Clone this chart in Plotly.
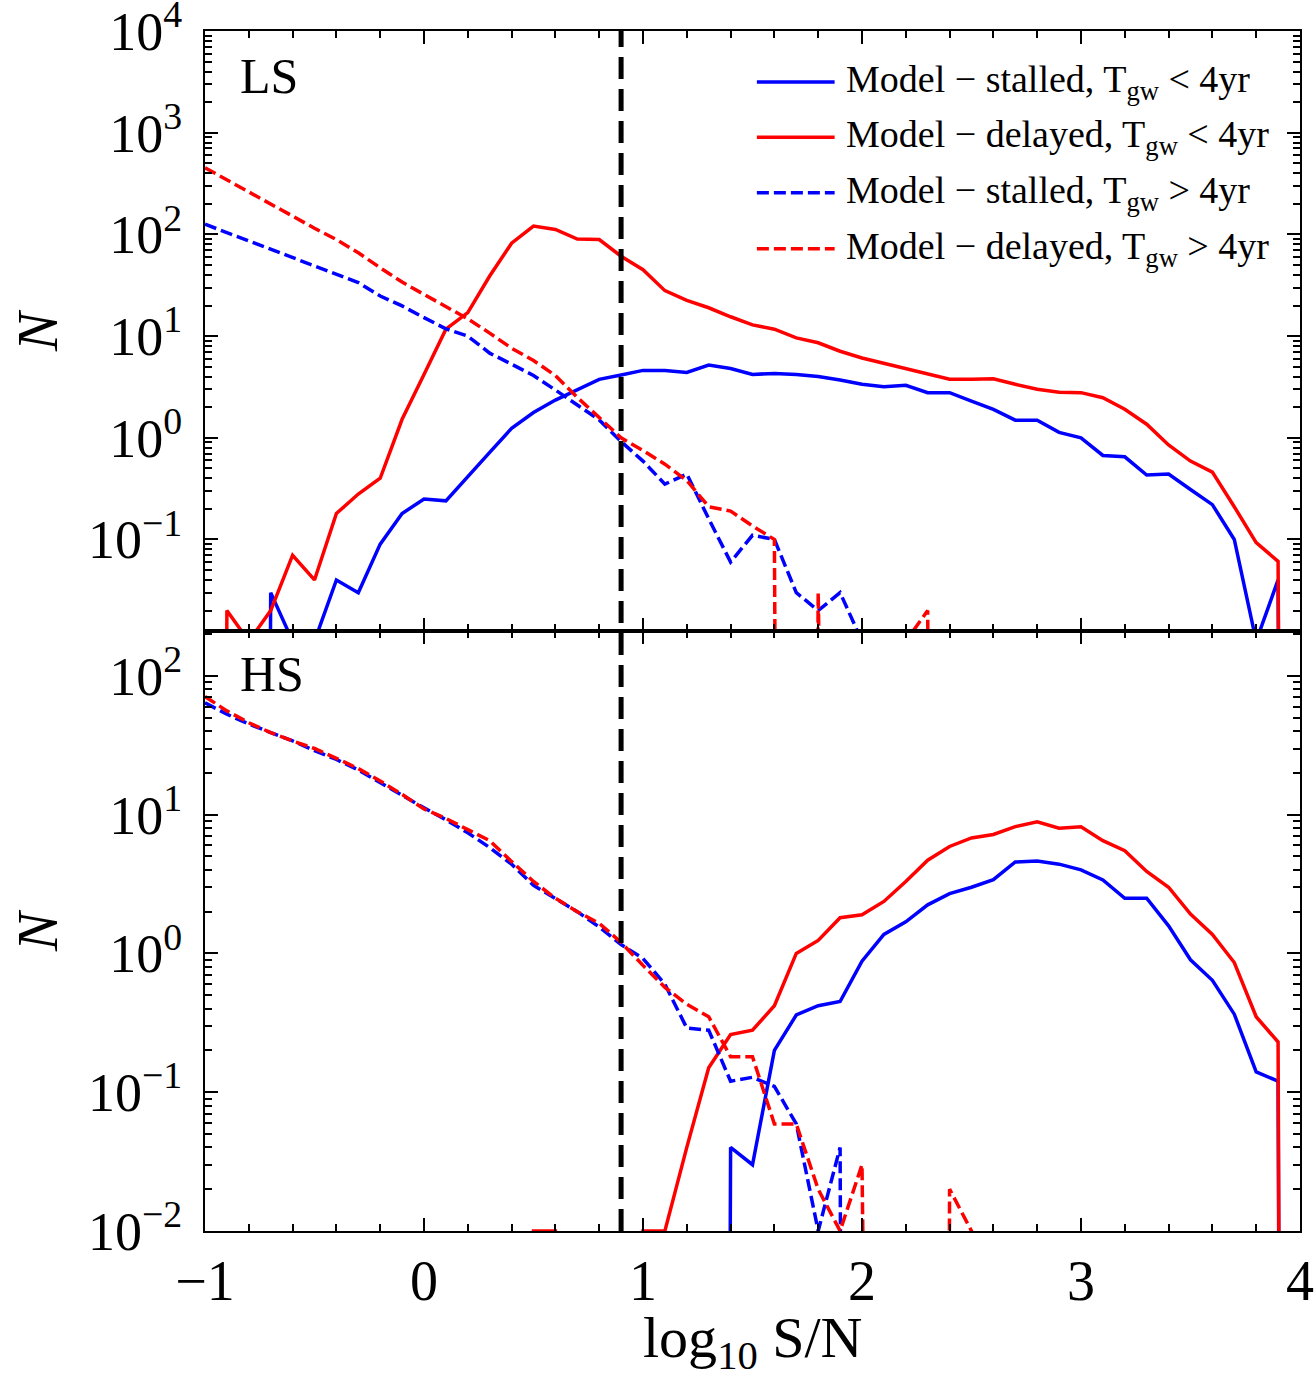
import plotly.graph_objects as go
from plotly.subplots import make_subplots

# ---------------- data ----------------
log_snr = [-1.0, -0.9, -0.8, -0.7, -0.6, -0.5, -0.4, -0.3, -0.2, -0.1,
           0.0, 0.1, 0.2, 0.3, 0.4, 0.5, 0.6, 0.7, 0.8, 0.9,
           1.0, 1.1, 1.2, 1.3, 1.4, 1.5, 1.6, 1.7, 1.8, 1.9,
           2.0, 2.1, 2.2, 2.3, 2.4, 2.5, 2.6, 2.7, 2.8, 2.9,
           3.0, 3.1, 3.2, 3.3, 3.4, 3.5, 3.6, 3.7, 3.8, 3.9, 4.0]

# LS panel
ls_stalled_lt = [0, 0, 0, 0.03, 0.01, 0.01, 0.04, 0.03, 0.09, 0.18,
                 0.25, 0.24, 0.42, 0.72, 1.24, 1.77, 2.35, 2.95, 3.76, 4.15,
                 4.6, 4.6, 4.4, 5.2, 4.8, 4.2, 4.3, 4.2, 4.0, 3.7,
                 3.36, 3.18, 3.28, 2.78, 2.78, 2.3, 1.9, 1.49, 1.49, 1.13,
                 1.0, 0.67, 0.65, 0.43, 0.44, 0.31, 0.22, 0.10, 0.01, 0.04, 0]
ls_delayed_lt = [0, 0.02, 0.01, 0.02, 0.07, 0.04, 0.18, 0.28, 0.40, 1.52,
                 4.2, 11.7, 17, 39, 82, 121, 112, 90, 89, 61,
                 45, 28, 22.5, 19, 15.5, 12.9, 11.7, 9.6, 8.6, 7.1,
                 6.1, 5.4, 4.8, 4.2, 3.76, 3.76, 3.81, 3.36, 3.0, 2.8,
                 2.78, 2.48, 1.91, 1.36, 0.85, 0.59, 0.46, 0.21, 0.093, 0.061, 0]
ls_stalled_gt = [126, 104, 86, 71, 59, 49, 40.5, 33.6, 24.8, 19.8,
                 15.2, 11.8, 10, 6.8, 5.3, 4.1, 2.95, 2.1, 1.5, 0.92,
                 0.59, 0.35, 0.44, 0.16, 0.06, 0.11, 0.1, 0.03, 0.02, 0.03,
                 0.01, 0, 0, 0, 0, 0, 0, 0, 0, 0,
                 0, 0, 0, 0, 0, 0, 0, 0, 0, 0, 0]
ls_delayed_gt = [453, 343, 259, 198, 151, 115, 89, 66, 47, 34,
                 25.7, 19.5, 14.8, 10.7, 7.6, 5.75, 4.1, 2.5, 1.6, 1.0,
                 0.75, 0.55, 0.38, 0.21, 0.19, 0.136, 0.10, 0, 0.03, 0,
                 0, 0, 0.01, 0.02, 0, 0, 0, 0, 0, 0,
                 0, 0, 0, 0, 0, 0, 0, 0, 0, 0, 0]

# HS panel
hs_stalled_lt = [0, 0, 0, 0, 0, 0, 0, 0, 0, 0,
                 0, 0, 0, 0, 0, 0, 0, 0, 0, 0,
                 0, 0, 0, 0, 0.04, 0.03, 0.20, 0.36, 0.42, 0.45,
                 0.88, 1.37, 1.69, 2.24, 2.7, 3.0, 3.4, 4.56, 4.64, 4.4,
                 4.0, 3.39, 2.5, 2.5, 1.58, 0.90, 0.64, 0.365, 0.14, 0.12, 0]
hs_delayed_lt = [0, 0, 0, 0, 0, 0, 0, 0, 0, 0,
                 0, 0, 0, 0, 0, 0.01, 0.01, 0, 0, 0,
                 0.01, 0.01, 0.04, 0.15, 0.26, 0.28, 0.42, 1.0, 1.24, 1.81,
                 1.9, 2.37, 3.3, 4.7, 5.9, 6.8, 7.2, 8.2, 8.9, 8.0,
                 8.2, 6.5, 5.5, 3.9, 3.0, 1.92, 1.37, 0.86, 0.35, 0.23, 0]
hs_stalled_gt = [64, 53, 45, 39, 34, 29, 25, 21, 17, 13.8,
                 11.2, 9.2, 7.4, 5.8, 4.4, 3.1, 2.5, 2.0, 1.55, 1.16,
                 0.92, 0.6, 0.29, 0.28, 0.12, 0.128, 0.11, 0.059, 0.01, 0.04,
                 0, 0, 0, 0, 0, 0, 0, 0, 0, 0,
                 0, 0, 0, 0, 0, 0, 0, 0, 0, 0, 0]
hs_delayed_gt = [71, 56, 46, 39, 34, 30, 25.5, 21.5, 17.5, 14,
                 11, 9.4, 7.8, 6.5, 4.6, 3.3, 2.5, 2.0, 1.65, 1.2,
                 0.82, 0.57, 0.43, 0.35, 0.18, 0.18, 0.059, 0.059, 0.02, 0.01,
                 0.03, 0, 0, 0, 0.02, 0.01, 0, 0, 0, 0,
                 0, 0, 0, 0, 0, 0, 0, 0, 0, 0, 0]

snr_threshold = 0.9  # log10 S/N detection threshold

series_names = ["Model \u2212 stalled, T<sub>gw</sub> &lt; 4yr",
                "Model \u2212 delayed, T<sub>gw</sub> &lt; 4yr",
                "Model \u2212 stalled, T<sub>gw</sub> &gt; 4yr",
                "Model \u2212 delayed, T<sub>gw</sub> &gt; 4yr"]

x_ticks = [-1, 0, 1, 2, 3, 4]
x_ticktext = ["\u22121", "0", "1", "2", "3", "4"]
ls_yticks = [1e-1, 1e0, 1e1, 1e2, 1e3, 1e4]
ls_ytext = ["10<sup>\u22121</sup>", "10<sup>0</sup>", "10<sup>1</sup>",
            "10<sup>2</sup>", "10<sup>3</sup>", "10<sup>4</sup>"]
hs_yticks = [1e-2, 1e-1, 1e0, 1e1, 1e2]
hs_ytext = ["10<sup>\u22122</sup>", "10<sup>\u22121</sup>", "10<sup>0</sup>",
            "10<sup>1</sup>", "10<sup>2</sup>"]

# ---------------- styling ----------------
FONT = "Liberation Serif"
BLUE = "#0000ff"
RED = "#ff0000"
LW = 3.5
DASH = "12px,5px"
styles = [(BLUE, "solid"), (RED, "solid"), (BLUE, DASH), (RED, DASH)]


def clip0(vals):
    # emulate matplotlib's log-scale clipping of empty bins
    return [v if v > 0 else 1e-40 for v in vals]


fig = make_subplots(rows=2, cols=1, shared_xaxes=True, vertical_spacing=0)

panels = [(1, [ls_stalled_lt, ls_delayed_lt, ls_stalled_gt, ls_delayed_gt]),
          (2, [hs_stalled_lt, hs_delayed_lt, hs_stalled_gt, hs_delayed_gt])]
for row, arrs in panels:
    for arr, (col, dash), name in zip(arrs, styles, series_names):
        fig.add_trace(go.Scatter(x=log_snr, y=clip0(arr), mode="lines",
                                 line=dict(color=col, width=LW, dash=dash),
                                 name=name, showlegend=False, cliponaxis=True),
                      row=row, col=1)

# threshold line across both panels
fig.add_shape(type="line", xref="x", yref="paper", x0=snr_threshold, x1=snr_threshold,
              y0=0, y1=1, line=dict(color="black", width=5, dash="22px,10px"))


def log_minor(lo, hi):
    out = []
    for e in range(lo, hi):
        for k in range(2, 10):
            out.append(k * 10 ** e)
    return out


axis_common = dict(showline=True, linecolor="black", linewidth=2, mirror="ticks",
                   ticks="inside", ticklen=13, tickwidth=2, tickcolor="black",
                   showgrid=False, zeroline=False, automargin=False,
                   ticklabeloverflow="allow",
                   tickfont=dict(family=FONT, size=54, color="black"))

fig.update_xaxes(range=[-1, 4.0001], tickvals=x_ticks, ticktext=x_ticktext,
                 minor=dict(ticks="inside", ticklen=7, tickwidth=1.5, dtick=0.2,
                            tick0=0, tickcolor="black", showgrid=False),
                 **axis_common)
fig.update_xaxes(showticklabels=False, row=1, col=1)
fig.update_xaxes(ticklabelstandoff=0, tickfont=dict(family=FONT, size=56, color="black"),
                 row=2, col=1)

fig.update_yaxes(type="log", range=[-1.9, 4.0005], tickvals=ls_yticks, ticktext=ls_ytext,
                 minor=dict(ticks="inside", ticklen=7, tickwidth=1.5,
                            tickvals=log_minor(-2, 4), tickcolor="black", showgrid=False),
                 ticklabelstandoff=10, row=1, col=1, **axis_common)
fig.update_yaxes(type="log", range=[-2.0005, 2.324], tickvals=hs_yticks, ticktext=hs_ytext,
                 minor=dict(ticks="inside", ticklen=7, tickwidth=1.5,
                            tickvals=log_minor(-2, 3), tickcolor="black", showgrid=False),
                 ticklabelstandoff=10, row=2, col=1, **axis_common)

# axis titles
for yref in ["y domain", "y2 domain"]:
    fig.add_annotation(text="<i>N</i>", xref="paper", yref=yref, x=0, y=0.5,
                       xshift=-168, xanchor="center", yanchor="middle",
                       textangle=-90, showarrow=False,
                       font=dict(family=FONT, size=58, color="black"))
fig.add_annotation(text="log<sub>10</sub> S/N", xref="paper", yref="paper", x=0.5, y=0,
                   yshift=-72, xanchor="center", yanchor="top",
                   showarrow=False, font=dict(family=FONT, size=58, color="black"))

# panel labels
fig.add_annotation(text="LS", xref="x domain", yref="y domain", x=0.03, y=0.925,
                   xanchor="left", yanchor="middle", showarrow=False,
                   font=dict(family=FONT, size=50, color="black"))
fig.add_annotation(text="HS", xref="x2 domain", yref="y2 domain", x=0.03, y=0.928,
                   xanchor="left", yanchor="middle", showarrow=False,
                   font=dict(family=FONT, size=50, color="black"))

# legend (drawn in the top panel)
leg_rows = [0.915, 0.823, 0.7305, 0.637]
for (col, dash), name, yy in zip(styles, series_names, leg_rows):
    fig.add_shape(type="line", xref="x domain", yref="y domain",
                  x0=0.504, x1=0.575, y0=yy, y1=yy,
                  line=dict(color=col, width=LW, dash=dash))
    fig.add_annotation(text=name, xref="x domain", yref="y domain", x=0.584, y=yy,
                       xanchor="left", yanchor="middle", showarrow=False,
                       font=dict(family=FONT, size=38, color="black"))

fig.update_layout(width=1315, height=1378,
                  margin=dict(l=205, r=15, t=31, b=147),
                  plot_bgcolor="white", paper_bgcolor="white",
                  showlegend=False)

fig.write_html("out.html")
